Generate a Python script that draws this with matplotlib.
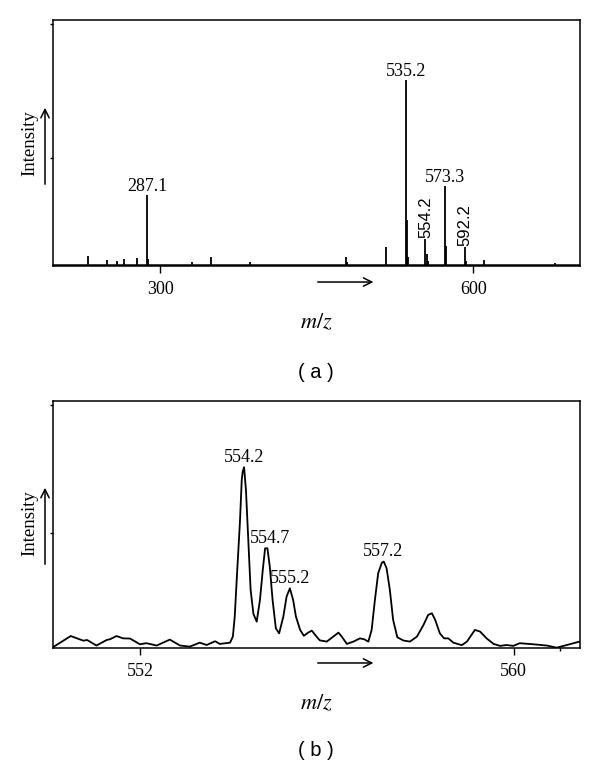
import matplotlib
matplotlib.use("Agg")
import matplotlib.pyplot as plt
from matplotlib.patches import FancyArrowPatch

plt.rcParams['font.family'] = 'serif'
plt.rcParams['font.serif'] = ['Liberation Serif', 'DejaVu Serif']
plt.rcParams['mathtext.fontset'] = 'stix'

# panel (a): full scan, relative intensity (535.2 = 100)
peak_mz = [230.4, 248.5, 258.0, 264.7, 277.5, 287.1, 288.1, 330.0, 348.4, 386.0,
           477.6, 479.0, 516.5, 535.2, 536.2, 537.2, 554.2, 555.2, 556.2,
           573.3, 574.3, 592.2, 593.2, 610.6, 678.0]
peak_int = [5.0, 2.5, 2.0, 3.0, 3.5, 37.8, 3.0, 1.5, 4.5, 1.5,
            4.0, 1.5, 9.7, 100.0, 24.0, 4.0, 14.0, 6.0, 2.0,
            42.7, 10.0, 9.7, 2.0, 2.5, 1.0]
labels_a = ['287.1', '535.2', '573.3']
labels_a_rot = ['554.2', '592.2']

# panel (b): zoom 550-561.5, relative intensity (554.2 = 100)
zoom_mz = [550.16, 550.52, 550.79, 550.87, 551.07, 551.29, 551.36, 551.50, 551.64, 551.79,
           552.00, 552.14, 552.36, 552.64, 552.86, 553.07, 553.28, 553.43, 553.61, 553.71,
           553.93, 553.99, 554.03, 554.08, 554.14, 554.18, 554.20, 554.23, 554.27, 554.32,
           554.37, 554.43, 554.50, 554.57, 554.63, 554.68, 554.73, 554.78, 554.84, 554.91,
           554.98, 555.07, 555.14, 555.21, 555.28, 555.34, 555.43, 555.51, 555.60, 555.68,
           555.78, 555.85, 556.00, 556.14, 556.25, 556.32, 556.43, 556.57, 556.71, 556.80,
           556.89, 556.96, 557.03, 557.10, 557.18, 557.22, 557.28, 557.35, 557.42, 557.51,
           557.64, 557.78, 557.93, 558.07, 558.17, 558.25, 558.32, 558.42, 558.51, 558.60,
           558.71, 558.89, 559.00, 559.17, 559.28, 559.42, 559.57, 559.71, 559.85, 559.99,
           560.13, 560.42, 560.71, 560.92, 561.14, 561.41]
zoom_int = [0.0, 5.9, 3.3, 3.7, 0.6, 3.7, 4.1, 5.9, 4.6, 4.5,
            1.3, 1.9, 0.6, 3.9, 0.6, 0.0, 2.2, 0.9, 3.0, 1.5,
            2.2, 5.6, 16.7, 40.9, 68.8, 92.9, 97.5, 100.0, 87.3, 59.5,
            31.6, 18.2, 13.9, 26.0, 42.7, 54.8, 54.8, 44.6, 26.0, 10.2,
            7.4, 16.7, 27.9, 32.5, 26.0, 16.7, 9.3, 6.0, 7.8, 8.9,
            5.6, 3.5, 2.8, 5.6, 7.8, 5.6, 1.5, 2.8, 4.6, 4.1,
            2.8, 9.3, 26.0, 40.9, 46.8, 47.4, 43.7, 31.6, 14.9, 5.2,
            3.4, 2.8, 5.6, 12.1, 17.7, 18.6, 14.9, 7.4, 4.6, 4.6,
            2.2, 0.8, 2.8, 9.3, 8.4, 4.6, 1.5, 0.4, 0.9, 0.4,
            1.9, 1.3, 0.6, -0.6, 0.9, 2.8]
labels_b = [('554.2', 554.23, 100.0), ('554.7', 554.72, 54.8),
            ('555.2', 555.21, 32.5), ('557.2', 557.21, 47.4)]

fig = plt.figure(figsize=(6.0, 7.61), dpi=100)

ax1 = fig.add_axes([0.0883, 0.6505, 0.8784, 0.3232])
ax1.axhline(0, color='black', lw=1.8)
ax1.vlines(peak_mz, 0, peak_int, color='black', lw=1.3)
ax1.set_xlim(197, 702.4)
ax1.set_ylim(-0.6, 132.4)
ax1.set_xticks([300, 600])
ax1.set_yticks([57.8, 130.3])
ax1.set_yticklabels([])
for lab in labels_a:
    i = peak_mz.index(float(lab))
    ax1.annotate(lab, (peak_mz[i], peak_int[i]), xytext=(0, 2.5), textcoords='offset points',
                 ha='center', va='baseline', fontsize=13)
for lab in labels_a_rot:
    i = peak_mz.index(float(lab))
    ax1.annotate(lab, (peak_mz[i], peak_int[i]), xytext=(0, 1), textcoords='offset points',
                 ha='center', va='bottom', rotation=90, fontsize=12, family='Liberation Sans')

ax2 = fig.add_axes([0.0883, 0.1489, 0.8784, 0.3246])
ax2.plot(zoom_mz, zoom_int, color='black', lw=1.3)
ax2.set_xlim(550.14, 561.42)
ax2.set_ylim(-0.6, 137.1)
ax2.set_xticks([552, 560])
ax2.set_xticks([561], minor=True)
ax2.set_yticks([63.5, 134.7])
ax2.set_yticklabels([])
for lab, x, y in labels_b:
    dx = 2 if lab == '554.7' else 0
    ax2.annotate(lab, (x, y), xytext=(dx, 4), textcoords='offset points',
                 ha='center', va='baseline', fontsize=13)

for ax in (ax1, ax2):
    for s in ax.spines.values():
        s.set_linewidth(1.1)
    ax.tick_params(axis='x', direction='out', length=5, width=1, labelsize=13, pad=6)
    ax.tick_params(axis='x', which='minor', direction='out', length=2.5, width=1)
    ax.tick_params(axis='y', direction='out', length=2.5, width=1)

# axis titles and arrows
for ytxt, yarr0, yarr1, xarr_y, mz_y in [(0.8121, 0.7543, 0.862, 0.6294, 0.5756),
                                          (0.3128, 0.2549, 0.3627, 0.1288, 0.0749)]:
    fig.text(0.05, ytxt, 'Intensity', rotation=90, ha='center', va='center', fontsize=13.5)
    fig.add_artist(FancyArrowPatch((0.075, yarr0), (0.075, yarr1), transform=fig.transFigure,
                                   arrowstyle='->,head_length=6,head_width=3', lw=1.1, color='black'))
    fig.add_artist(FancyArrowPatch((0.525, xarr_y), (0.627, xarr_y), transform=fig.transFigure,
                                   arrowstyle='->,head_length=6,head_width=3', lw=1.1, color='black'))
    fig.text(0.527, mz_y, '$m/z$', ha='center', va='center', fontsize=16)

fig.text(0.527, 0.511, '( a )', ha='center', va='center', fontsize=14.5, family='Liberation Sans')
fig.text(0.527, 0.014, '( b )', ha='center', va='center', fontsize=14.5, family='Liberation Sans')

fig.savefig('out.png', dpi=100)
